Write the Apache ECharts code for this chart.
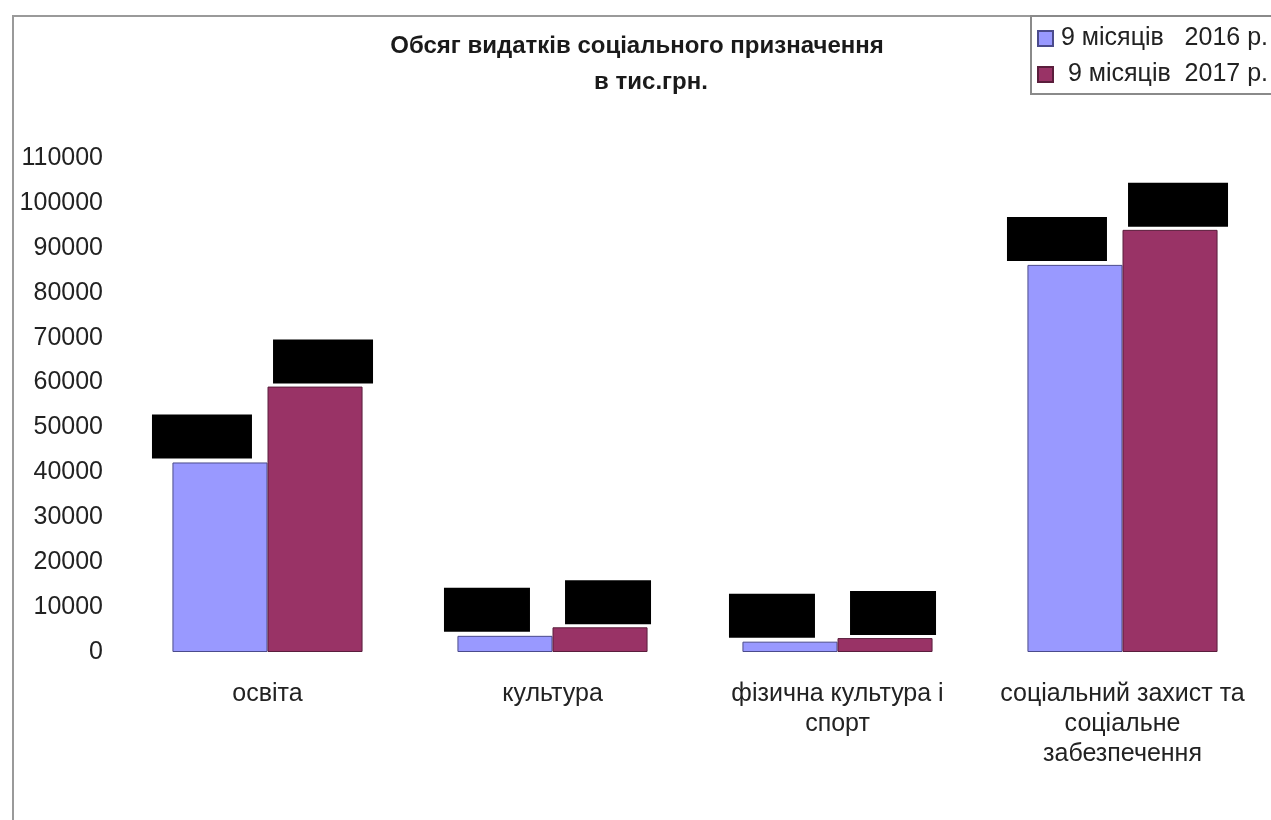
<!DOCTYPE html>
<html>
<head>
<meta charset="utf-8">
<style>
html,body{margin:0;padding:0;background:#fff;}
#chart{width:1271px;height:820px;}
</style>
<script src="https://cdn.jsdelivr.net/npm/echarts@6/dist/echarts.min.js"></script>
</head>
<body>
<div id="chart"></div>
<script>
// Data (тис.грн.)
const categories = ['освіта', 'культура', 'фізична культура і\nспорт', 'соціальний захист та\nсоціальне\nзабезпечення'];
const seriesNames = ['9 місяців   2016 р.', ' 9 місяців  2017 р.'];
const values2016 = [42200, 3600, 2300, 86200];
const values2017 = [59100, 5500, 3100, 94000];
const yTicks = [0, 10000, 20000, 30000, 40000, 50000, 60000, 70000, 80000, 90000, 100000, 110000];

const FONT = '"Liberation Sans", Arial, sans-serif';

function withLabelWidth(vals) {
  return vals.map(v => ({ value: v, label: { width: v >= 10000 ? 100 : 86 } }));
}

const chart = echarts.init(document.getElementById('chart'));
chart.setOption({
  backgroundColor: '#ffffff',
  animation: false,
  textStyle: { fontFamily: FONT },
  graphic: [{
    type: 'rect',
    silent: true,
    z: -10,
    shape: { x: 13, y: 16, width: 1400, height: 1000 },
    style: { fill: 'none', stroke: '#9a9a9a', lineWidth: 2 }
  }],
  title: [{
    text: 'Обсяг видатків соціального призначення',
    left: 632, top: 29, textAlign: 'center',
    textStyle: { fontFamily: FONT, fontSize: 24, fontWeight: 'bold', color: '#1a1a1a' }
  }, {
    text: 'в тис.грн.',
    left: 646, top: 65, textAlign: 'center',
    textStyle: { fontFamily: FONT, fontSize: 24, fontWeight: 'bold', color: '#1a1a1a' }
  }],
  legend: {
    orient: 'vertical',
    left: 1031, top: 16,
    padding: [10, 60, 7, 6],
    itemGap: 11,
    itemWidth: 15, itemHeight: 15,
    icon: 'rect',
    borderColor: '#8a8a8a', borderWidth: 2,
    backgroundColor: '#fff',
    textStyle: { fontFamily: FONT, fontSize: 25, color: '#222', padding: [0, 0, 0, 3] },
    data: seriesNames
  },
  grid: { left: 125, right: 6, top: 158, bottom: 168 },
  xAxis: {
    type: 'category',
    data: categories,
    axisLine: { show: false },
    axisTick: { show: false },
    axisLabel: { fontFamily: FONT, fontSize: 25, color: '#222', margin: 27, lineHeight: 30, interval: 0 }
  },
  yAxis: {
    type: 'value',
    min: 0, max: 110000, interval: 10000,
    axisLine: { show: false },
    axisTick: { show: false },
    splitLine: { show: false },
    axisLabel: {
      fontFamily: FONT, fontSize: 25, color: '#222', margin: 22,
      formatter: v => yTicks.includes(v) ? String(v) : ''
    }
  },
  series: [{
    name: seriesNames[0],
    type: 'bar',
    data: withLabelWidth(values2016),
    barGap: '0%',
    barCategoryGap: '33.3%',
    itemStyle: { color: '#9999ff', borderColor: '#4b4b8c', borderWidth: 1 },
    label: {
      show: true, position: 'top', distance: 4, offset: [-18, 0],
      height: 44, lineHeight: 44, padding: 0, backgroundColor: '#000', color: '#000',
      fontSize: 14
    }
  }, {
    name: seriesNames[1],
    type: 'bar',
    data: withLabelWidth(values2017),
    itemStyle: { color: '#993366', borderColor: '#5a1e3c', borderWidth: 1 },
    label: {
      show: true, position: 'top', distance: 3, offset: [8, 0],
      height: 44, lineHeight: 44, padding: 0, backgroundColor: '#000', color: '#000',
      fontSize: 14
    }
  }]
});
</script>
</body>
</html>
